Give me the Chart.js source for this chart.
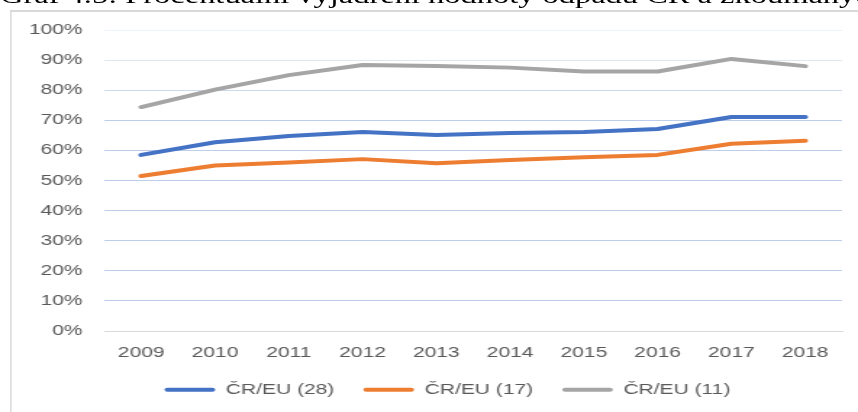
<!DOCTYPE html>
<html>
<head>
<meta charset="utf-8">
<script src="https://cdn.jsdelivr.net/npm/chart.js@4/dist/chart.umd.min.js"></script>
<style>
  html, body { margin: 0; padding: 0; background: #fff; overflow: hidden; width: 858px; height: 412px; }
  #sheet { position: absolute; left: 0; top: 0; width: 592px; height: 412px; transform: scaleX(1.4493); transform-origin: 0 0; }
  #caption { position: absolute; left: 0; top: -14.6px; font: 22.4px/1 "Liberation Serif", "Times New Roman", serif; color: #000; white-space: nowrap; }
  #frame { position: absolute; left: 7px; top: 10px; right: -40px; bottom: -10px; border-left: 1.7px solid #D9D9D9; border-top: 2px solid #D9D9D9; }
  #chart { position: absolute; left: 0; top: 0; }
</style>
</head>
<body>
<div id="sheet">
  <div id="caption">Graf 4.5: Procentuální vyjádření hodnoty odpadu ČR a zkoumaných zemí</div>
  <div id="frame"></div>
  <canvas id="chart" width="592" height="407"></canvas>
</div>
<script>
// Years on the category axis
const years = ['2009', '2010', '2011', '2012', '2013', '2014', '2015', '2016', '2017', '2018'];

// Share of the Czech value relative to each EU group (%)
const crEu28 = [58.5, 62.7, 64.8, 66.1, 65.1, 65.8, 66.1, 67.1, 71.1, 71.1];
const crEu17 = [51.5, 55.0, 56.0, 57.1, 55.7, 56.8, 57.7, 58.5, 62.2, 63.2];
const crEu11 = [74.4, 80.2, 85.0, 88.4, 88.0, 87.5, 86.2, 86.2, 90.4, 88.0];

// Series names shown in the legend
const seriesNames = ['ČR/EU (28)', 'ČR/EU (17)', 'ČR/EU (11)'];

// Value axis range
const yMin = 0, yMax = 100, yStep = 10;

const palette = ['#4472C4', '#ED7D31', '#A5A5A5'];
const labelFont = { family: '"Liberation Sans", Arial, sans-serif', size: 14.5 };
const gridTint = { 100: '#EDF1F8', 90: '#DEE6F4', 80: '#CCD9EF' };

function lineSeries(name, values, color) {
  return {
    label: name,
    data: values,
    borderColor: color,
    backgroundColor: color,
    borderWidth: 4,
    borderCapStyle: 'round',
    borderJoinStyle: 'round',
    pointRadius: 0,
    pointHoverRadius: 0,
    tension: 0,
    fill: false
  };
}

// Nudge the legend row so it sits under the left part of the plot
const legendOffset = {
  id: 'legendOffset',
  afterLayout(chart) {
    if (chart.legend) chart.legend.left += 36.5;
  }
};

new Chart(document.getElementById('chart'), {
  type: 'line',
  data: {
    labels: years,
    datasets: [
      lineSeries(seriesNames[0], crEu28, palette[0]),
      lineSeries(seriesNames[1], crEu17, palette[1]),
      lineSeries(seriesNames[2], crEu11, palette[2])
    ]
  },
  plugins: [legendOffset],
  options: {
    responsive: false,
    animation: false,
    devicePixelRatio: 1,
    layout: { padding: { top: 30, right: 11, left: 0, bottom: 0 } },
    plugins: {
      tooltip: { enabled: false },
      legend: {
        position: 'bottom',
        labels: {
          boxWidth: 35,
          boxHeight: 4,
          padding: 20,
          color: '#595959',
          font: labelFont,
          generateLabels(chart) {
            return Chart.defaults.plugins.legend.labels.generateLabels(chart)
              .map(item => Object.assign(item, { lineWidth: 0, borderRadius: 2 }));
          }
        }
      }
    },
    scales: {
      x: {
        offset: true,
        afterFit(scale) { scale.height = 31.5; },
        grid: { drawOnChartArea: false, drawTicks: false },
        border: { display: true, color: '#D9D9D9', width: 1 },
        ticks: { color: '#595959', font: Object.assign({ lineHeight: 1.38 }, labelFont), padding: 12, maxRotation: 0, autoSkip: false }
      },
      y: {
        min: yMin,
        max: yMax,
        afterFit(scale) { scale.width = 72; },
        grid: {
          drawTicks: false,
          lineWidth: 1,
          color: c => (c.tick && c.tick.value === 0) ? 'rgba(0,0,0,0)' : (gridTint[c.tick ? c.tick.value : -1] || '#BDCDEA')
        },
        border: { display: false },
        ticks: {
          stepSize: yStep,
          padding: 15,
          color: '#595959',
          font: labelFont,
          callback: v => v + '%'
        }
      }
    }
  }
});
</script>
</body>
</html>
